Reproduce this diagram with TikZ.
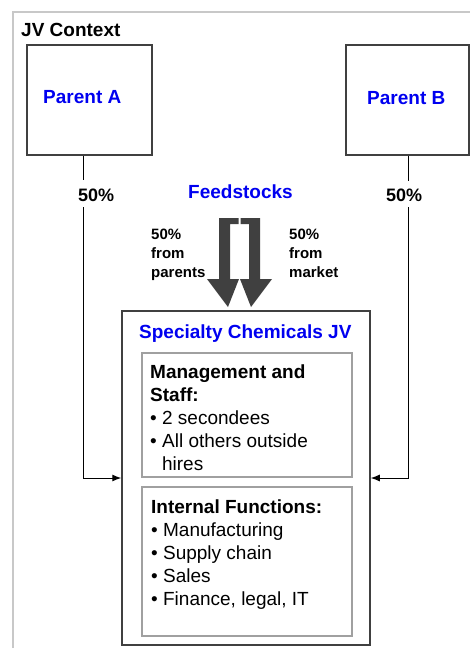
\documentclass[tikz,border=0pt]{standalone}
\usepackage{fontspec}
\setmainfont{Liberation Sans}
\usetikzlibrary{arrows.meta}
\definecolor{darkline}{HTML}{404040}
\definecolor{innerline}{HTML}{A0A0A0}
\definecolor{frameline}{HTML}{C8C8C8}
\definecolor{titleblue}{HTML}{0000F0}
\tikzset{
  x=1pt, y=-1pt,
  outerbox/.style={draw=darkline, line width=1.5pt, minimum width=#1, inner sep=0pt},
  innerbox/.style={draw=innerline, line width=1.5pt, inner sep=0pt},
  txt/.style={anchor=base west, inner sep=0pt, font=\fontsize{19}{23}\selectfont},
  btxt/.style={txt, font=\fontsize{19}{23}\selectfont\bfseries},
  bluetxt/.style={btxt, text=titleblue},
  smalltxt/.style={anchor=base west, inner sep=0pt, font=\fontsize{15}{19}\selectfont\bfseries},
  pcttxt/.style={anchor=base west, inner sep=0pt, font=\fontsize{18}{22}\selectfont\bfseries},
  conn/.style={draw=black, line width=1pt},
  connarrow/.style={conn, -{Latex[length=9pt,width=7pt]}},
  feedarrow/.style={fill=darkline, draw=none}
}
\begin{document}
\begin{tikzpicture}
\useasboundingbox (0,0) rectangle (470,649);
% outer frame
\draw[frameline, line width=2pt] (13,648) -- (13,12) -- (472,12);
\node[btxt] (ctx) at (21,36) {JV Context};
% parents
\node[outerbox=125pt, minimum height=110pt] (PA) at (89.5,100) {};
\node[bluetxt] (PAl) at (43,103) {Parent A};
\node[outerbox=123pt, minimum height=110pt] (PB) at (407.5,100) {};
\node[bluetxt] (PBl) at (367,104) {Parent B};
% JV box
\node[outerbox=248pt, minimum height=334pt] (JV) at (246,478) {};
\node[bluetxt] (JVl) at (139,338) {Specialty Chemicals JV};
\node[innerbox, minimum width=210pt, minimum height=124pt] (MS) at (247,415) {};
\node[innerbox, minimum width=210pt, minimum height=149pt] (IF) at (247,561.5) {};
% management text
\node[btxt] (m1) at (150,378) {Management and};
\node[btxt] (m2) at (150,401) {Staff:};
\node[txt] (m3) at (150,424) {•\ 2 secondees};
\node[txt] (m4) at (150,447) {•\ All others outside};
\node[txt] (m5) at (150,470) {\phantom{•\ }hires};
% internal functions text
\node[btxt] (f1) at (151,513) {Internal Functions:};
\node[txt] (f2) at (151,536) {•\ Manufacturing};
\node[txt] (f3) at (151,559) {•\ Supply chain};
\node[txt] (f4) at (151,582) {•\ Sales};
\node[txt] (f5) at (151,605) {•\ Finance, legal, IT};
% feedstocks
\node[bluetxt] (feed) at (188,198) {Feedstocks};
\node[smalltxt] (fp1) at (151,239) {50\%};
\node[smalltxt] (fp2) at (151,258) {from};
\node[smalltxt] (fp3) at (151,277) {parents};
\node[smalltxt] (fm1) at (289,239) {50\%};
\node[smalltxt] (fm2) at (289,258) {from};
\node[smalltxt] (fm3) at (289,277) {market};
\fill[feedarrow] (238.5,218) -- (219,218) -- (219,279) -- (207,279) -- (228,307)
  -- (239,279) -- (230,279) -- (230,224) -- (238.5,224) -- cycle;
\fill[feedarrow] (240.5,218) -- (260,218) -- (260,279) -- (272,279) -- (251,307)
  -- (240,279) -- (249,279) -- (249,224) -- (240.5,224) -- cycle;
% ownership connectors
\node[pcttxt] (pa) at (78,201) {50\%};
\node[pcttxt] (pb) at (386,201) {50\%};
\coordinate (a1) at (83,180);
\coordinate (a2) at (83,207);
\coordinate (b1) at (408,181);
\coordinate (b2) at (408,207);
\draw[conn] (PA.south -| a1) -- (a1);
\draw[connarrow] (a2) |- (JV.west);
\draw[conn] (PB.south -| b1) -- (b1);
\draw[connarrow] (b2) |- (JV.east);
\end{tikzpicture}
\end{document}
